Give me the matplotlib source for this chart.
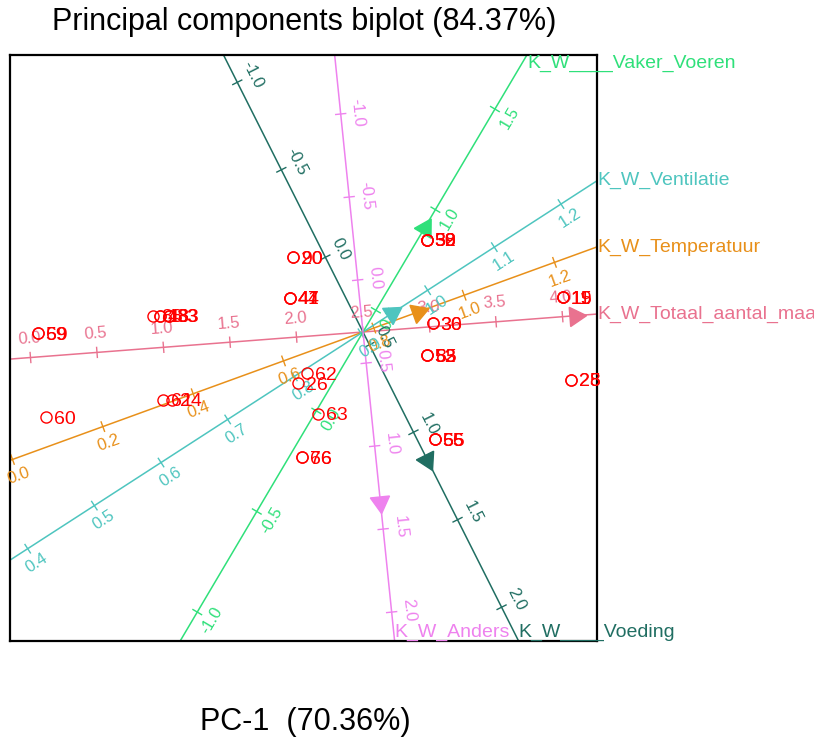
import numpy as np
import matplotlib
matplotlib.use("Agg")
import matplotlib.pyplot as plt

plt.rcParams["font.family"] = ["Liberation Sans", "DejaVu Sans"]

# sample scores on PC-1 / PC-2 (one entry per sample, ties share a position)
score_id = ["59", "69", "88", "48", "18", "83", "33", "20", "90",
            "41", "44", "47", "32", "39", "50", "58", "30", "36",
            "52", "53", "85", "62", "26", "61", "24", "60", "63",
            "66", "76", "55", "56", "65", "11", "15", "19", "25", "28"]
score_x = [-3.25, -3.25, -2.10, -2.03, -2.03, -1.94, -1.94, -0.70, -0.70,
           -0.73, -0.73, -0.73, 0.64, 0.64, 0.64, 0.64, 0.70, 0.70,
           0.64, 0.64, 0.64, -0.56, -0.65, -2.00, -1.91, -3.17, -0.45,
           -0.61, -0.61, 0.72, 0.72, 0.72, 2.00, 2.00, 2.00, 2.08, 2.08]
score_y = [-0.01, -0.01, 0.16, 0.16, 0.16, 0.16, 0.16, 0.75, 0.75,
           0.34, 0.34, 0.34, 0.92, 0.92, 0.92, 0.92, 0.09, 0.09,
           -0.23, -0.23, -0.23, -0.41, -0.51, -0.68, -0.68, -0.85, -0.82,
           -1.25, -1.25, -1.07, -1.07, -1.07, 0.35, 0.35, 0.35, -0.48, -0.48]

# variables: loading vector (arrow position), value at the origin, axis length per unit
var_names = ["K_W_Totaal_aantal_maatregelen", "K_W_Temperatuur", "K_W_Ventilatie",
             "K_W____Vaker_Voeren", "K_W____Voeding", "K_W_Anders"]
load_x = [2.124, 0.550, 0.294, 0.616, 0.643, 0.174]
load_y = [0.163, 0.200, 0.190, 1.041, -1.277, -1.701]
var_center = [2.5, 0.776, 0.903, 0.392, 0.427, 0.313]
var_step = [1.334, 4.806, 7.937, 2.338, 1.959, 1.669]
var_ticks = [
    [0.0, 0.5, 1.0, 1.5, 2.0, 2.5, 3.0, 3.5, 4.0, 4.5],
    [0.0, 0.2, 0.4, 0.6, 0.8, 1.0, 1.2, 1.4],
    [0.3, 0.4, 0.5, 0.6, 0.7, 0.8, 0.9, 1.0, 1.1, 1.2, 1.3],
    [-1.5, -1.0, -0.5, 0.0, 0.5, 1.0, 1.5, 2.0],
    [-1.5, -1.0, -0.5, 0.0, 0.5, 1.0, 1.5, 2.0, 2.5],
    [-1.5, -1.0, -0.5, 0.0, 0.5, 1.0, 1.5, 2.0, 2.5],
]

colors = ["#e9728f", "#e8901a", "#4ec5bf", "#2fe07a", "#206e62", "#ee82ee"]
label_side = [1, -1, -1, -1, 1, 1]

XLIM = (-3.53, 2.34)
YLIM = (-3.09, 2.77)

fig = plt.figure(figsize=(8.14, 7.38), dpi=100)
ax = fig.add_axes([10 / 814, 1 - 641 / 738, 587 / 814, 586 / 738])
ax.set_xlim(*XLIM)
ax.set_ylim(*YLIM)
ax.set_xticks([])
ax.set_yticks([])
for s in ax.spines.values():
    s.set_linewidth(1.6)
    s.set_color("black")


def inside(x, y, tol=0.005):
    return (XLIM[0] - tol <= x <= XLIM[1] + tol) and (YLIM[0] - tol <= y <= YLIM[1] + tol)


for i, name in enumerate(var_names):
    c = colors[i]
    lx, ly = load_x[i], load_y[i]
    ln = np.hypot(lx, ly)
    ux, uy = lx / ln, ly / ln
    nx, ny = -uy, ux  # left normal
    ang = np.degrees(np.arctan2(uy, ux))

    ax.plot([-10 * ux, 10 * ux], [-10 * uy, 10 * uy], color=c, lw=1.1, zorder=2)

    for v in var_ticks[i]:
        d = (v - var_center[i]) * var_step[i]
        px, py = d * ux, d * uy
        if not inside(px, py):
            continue
        ax.plot([px - 0.05 * nx, px + 0.05 * nx], [py - 0.05 * ny, py + 0.05 * ny],
                color=c, lw=1.0, zorder=2)
        off = 0.19 if i == 0 else 0.17
        tx = px + label_side[i] * off * nx
        ty = py + label_side[i] * off * ny
        ax.text(tx, ty, f"{v:.1f}", color=c, fontsize=12, rotation=ang,
                rotation_mode="anchor", ha="center", va="center", zorder=3)

    ax.plot([lx], [ly], marker=(3, 0, ang - 90), markersize=16, color=c,
            markeredgecolor=c, linestyle="none", zorder=4)

    # where the axis leaves the box
    cands = []
    cands.append(((XLIM[1] if ux > 0 else XLIM[0]) / ux, "side"))
    cands.append(((YLIM[1] if uy > 0 else YLIM[0]) / uy, "top" if uy > 0 else "bottom"))
    t, where = min(cands, key=lambda a: a[0])
    ex, ey = t * ux, t * uy
    va = {"side": "center", "top": "top", "bottom": "bottom"}[where]
    ax.text(ex, ey, name, color=c, fontsize=14, ha="left", va=va, clip_on=False, zorder=5)

ax.plot(score_x, score_y, "o", markersize=8, markerfacecolor="none",
        markeredgecolor="#ff0000", markeredgewidth=1.0, zorder=6)
for sx, sy, sid in zip(score_x, score_y, score_id):
    ax.annotate(sid, (sx, sy), xytext=(5.5, 0), textcoords="offset points",
                color="#ff0000", fontsize=14, ha="left", va="center_baseline",
                annotation_clip=False, zorder=7)

fig.text(304 / 814, 1 - 22 / 738, "Principal components biplot (84.37%)",
         fontsize=22, ha="center", va="center")
fig.text(305 / 814, 1 - 722 / 738, "PC-1  (70.36%)", fontsize=22,
         ha="center", va="center")

fig.savefig("out.png", dpi=100)
